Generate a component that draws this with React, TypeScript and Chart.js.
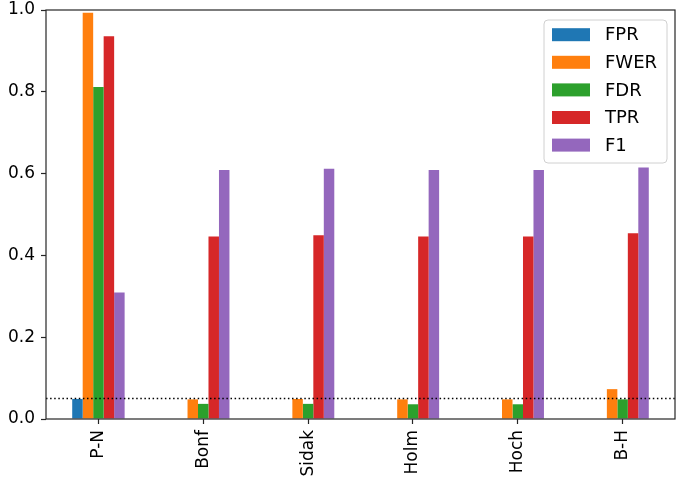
import { useRef, useEffect } from "react";
import { Chart, registerables } from "chart.js";

Chart.register(...registerables);

const methods = ["P-N", "Bonf", "Sidak", "Holm", "Hoch", "B-H"];
const seriesNames = ["FPR", "FWER", "FDR", "TPR", "F1"];
const fpr = [0.049, 0, 0, 0, 0, 0];
const fwer = [0.993, 0.048, 0.049, 0.048, 0.048, 0.073];
const fdr = [0.812, 0.037, 0.037, 0.036, 0.036, 0.048];
const tpr = [0.936, 0.446, 0.449, 0.446, 0.446, 0.454];
const f1 = [0.309, 0.609, 0.612, 0.609, 0.609, 0.615];
const yTicks = [0, 0.2, 0.4, 0.6, 0.8, 1.0];
const alphaLevel = 0.05;

const colors = ["#1f77b4", "#ff7f0e", "#2ca02c", "#d62728", "#9467bd"];
const FONT = "'DejaVu Sans', sans-serif";

const framePlugin = {
  id: "frameAndLine",
  afterDatasetsDraw(chart: any) {
    const { ctx, chartArea: a, scales } = chart;
    const y = scales.y.getPixelForValue(alphaLevel);
    ctx.save();
    ctx.strokeStyle = "#000";
    ctx.lineWidth = 1.5;
    ctx.setLineDash([1.5, 2.6]);
    ctx.beginPath();
    ctx.moveTo(a.left, y);
    ctx.lineTo(a.right, y);
    ctx.stroke();
    ctx.setLineDash([]);
    ctx.strokeStyle = "#262626";
    ctx.lineWidth = 1.2;
    ctx.strokeRect(a.left, a.top, a.right - a.left, a.bottom - a.top);
    ctx.restore();
  },
};

const legendPlugin = {
  id: "boxLegend",
  afterDraw(chart: any) {
    const { ctx, chartArea: a } = chart;
    const w = 123;
    const h = 143;
    const left = a.right - 8 - w;
    const top = a.top + 10;
    ctx.save();
    ctx.beginPath();
    ctx.roundRect(left, top, w, h, 4);
    ctx.fillStyle = "rgba(255,255,255,0.8)";
    ctx.fill();
    ctx.strokeStyle = "#d0d0d0";
    ctx.lineWidth = 1;
    ctx.stroke();
    ctx.font = `18px ${FONT}`;
    ctx.textBaseline = "middle";
    ctx.fillStyle = "#000";
    seriesNames.forEach((name, i) => {
      const cy = top + 14.7 + i * 27.6;
      ctx.fillStyle = colors[i];
      ctx.fillRect(left + 8, cy - 6.5, 38, 13);
      ctx.fillStyle = "#000";
      ctx.fillText(name, left + 61, cy + 1);
    });
    ctx.restore();
  },
};

export default function App() {
  const canvasRef = useRef<HTMLCanvasElement>(null);

  useEffect(() => {
    document.body.style.margin = "0";
    if (!canvasRef.current) return;
    const values = [fpr, fwer, fdr, tpr, f1];
    const chart = new Chart(canvasRef.current, {
      type: "bar",
      data: {
        labels: methods,
        datasets: seriesNames.map((name, i) => ({
          label: name,
          data: values[i],
          backgroundColor: colors[i],
          borderWidth: 0,
          categoryPercentage: 0.5,
          barPercentage: 1.0,
        })),
      },
      options: {
        responsive: false,
        animation: false,
        layout: { padding: { top: 10, right: 5, left: 0, bottom: 0 } },
        plugins: {
          legend: { display: false },
          tooltip: { enabled: false },
        },
        scales: {
          x: {
            offset: true,
            grid: {
              drawOnChartArea: false,
              drawTicks: true,
              tickLength: 5,
              tickColor: "#262626",
              tickWidth: 1.2,
              offset: false,
            },
            border: { display: false },
            ticks: {
              color: "#000",
              font: { family: FONT, size: 17 },
              maxRotation: 90,
              minRotation: 90,
              padding: 6,
            },
            afterFit(scale: any) {
              scale.height = 69;
              scale.paddingLeft = 0;
              scale.paddingRight = 0;
            },
          },
          y: {
            min: 0,
            max: 1,
            afterBuildTicks(scale: any) {
              scale.ticks = yTicks.map((v) => ({ value: v }));
            },
            grid: {
              drawOnChartArea: false,
              drawTicks: true,
              tickLength: 5,
              tickColor: "#262626",
              tickWidth: 1.2,
            },
            border: { display: false },
            ticks: {
              color: "#000",
              font: { family: FONT, size: 17 },
              padding: 6,
              callback: (v: any) => Number(v).toFixed(1),
            },
            afterFit(scale: any) {
              scale.width = 46;
              scale.paddingTop = 0;
              scale.paddingBottom = 0;
            },
          },
        },
      },
      plugins: [framePlugin, legendPlugin],
    });
    return () => chart.destroy();
  }, []);

  return <canvas ref={canvasRef} width={680} height={488} />;
}
